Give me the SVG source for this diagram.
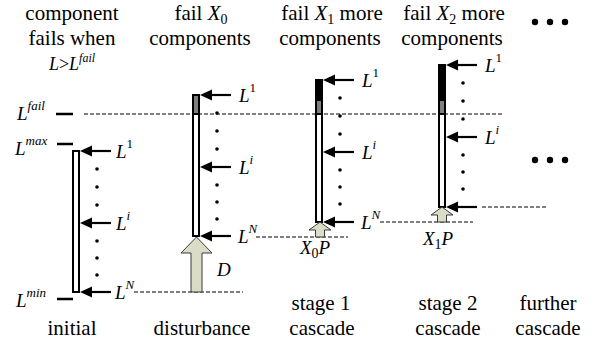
<svg xmlns="http://www.w3.org/2000/svg" width="597" height="347" viewBox="0 0 597 347" font-family="Liberation Serif, Times New Roman, serif">
<style>
text{fill:#000}
.h{font-size:21px;text-anchor:middle}
.lab{font-size:19px;font-style:italic}
.sup{font-size:13px}
.up{font-style:normal}
.bar{fill:#fff;stroke:#000;stroke-width:2}
.dash{stroke:#000;stroke-width:1;stroke-dasharray:4 2;fill:none}
.tick{stroke:#000;stroke-width:2.5}
.dot{fill:#000}
.big{fill:#dadcc6;stroke:#3a3a3a;stroke-width:1}
</style>
<defs>
<g id="arrowL">
<line x1="0" y1="0" x2="-20" y2="0" stroke="#000" stroke-width="2.2"/>
<path d="M-31,0 L-19,-5.5 L-19,5.5 z" fill="#000"/>
</g>
</defs>

<g id="connectors">
<line class="dash" x1="84" y1="114" x2="502" y2="114"/>
<line class="dash" x1="134" y1="292" x2="243" y2="292"/>
<line class="dash" x1="256" y1="237" x2="348" y2="237"/>
<line class="dash" x1="380" y1="222" x2="473" y2="222"/>
<line class="dash" x1="482" y1="207" x2="548" y2="207"/>
</g>

<g id="initial">
<text class="h" x="72" y="20">component</text>
<text class="h" x="72" y="45">fails when</text>
<text x="72" y="70" font-size="18" text-anchor="middle"><tspan font-style="italic">L</tspan>&gt;<tspan font-style="italic">L</tspan><tspan font-style="italic" font-size="12" dy="-8">fail</tspan></text>
<text class="lab" x="17" y="120">L<tspan class="sup" dy="-10">fail</tspan></text>
<text class="lab" x="15" y="155">L<tspan class="sup" dy="-10">max</tspan></text>
<text class="lab" x="16" y="307">L<tspan class="sup" dy="-10">min</tspan></text>
<line class="tick" x1="56" y1="114" x2="73" y2="114"/>
<line class="tick" x1="57" y1="144" x2="73" y2="144"/>
<line class="tick" x1="57" y1="299" x2="73" y2="299"/>
<rect class="bar" x="73" y="151" width="6" height="141"/>
<use href="#arrowL" x="111" y="151"/>
<use href="#arrowL" x="111" y="223"/>
<use href="#arrowL" x="111" y="292"/>
<text class="lab" x="116" y="158">L<tspan class="sup up" dy="-10">1</tspan></text>
<text class="lab" x="116" y="230">L<tspan class="sup" dy="-10">i</tspan></text>
<text class="lab" x="115" y="299">L<tspan class="sup" dy="-10">N</tspan></text>
<circle class="dot" cx="97" cy="169" r="1.8"/><circle class="dot" cx="97" cy="187" r="1.8"/><circle class="dot" cx="97" cy="205" r="1.8"/>
<circle class="dot" cx="97" cy="241" r="1.8"/><circle class="dot" cx="97" cy="258" r="1.8"/><circle class="dot" cx="97" cy="275" r="1.8"/>
<text class="h" x="72" y="335">initial</text>
</g>

<g id="disturbance">
<text class="h" x="201" y="20">fail <tspan font-style="italic">X</tspan><tspan font-size="14" dy="4">0</tspan></text>
<text class="h" x="200" y="45">components</text>
<rect class="bar" x="193" y="95" width="6" height="141"/>
<rect x="193" y="95" width="6" height="19" fill="#7f7f7f" stroke="#000" stroke-width="2"/>
<use href="#arrowL" x="231" y="95"/>
<use href="#arrowL" x="231" y="167"/>
<use href="#arrowL" x="231" y="236"/>
<text class="lab" x="239" y="102">L<tspan class="sup up" dy="-10">1</tspan></text>
<text class="lab" x="239" y="174">L<tspan class="sup" dy="-10">i</tspan></text>
<text class="lab" x="238" y="243">L<tspan class="sup" dy="-10">N</tspan></text>
<circle class="dot" cx="217" cy="113" r="1.8"/><circle class="dot" cx="217" cy="131" r="1.8"/><circle class="dot" cx="217" cy="149" r="1.8"/>
<circle class="dot" cx="217" cy="185" r="1.8"/><circle class="dot" cx="217" cy="202" r="1.8"/><circle class="dot" cx="217" cy="219" r="1.8"/>
<polygon class="big" points="196.5,237 212,253 202,253 202,292 191,292 191,253 181,253"/>
<text class="lab" x="217" y="276">D</text>
<text class="h" x="202" y="335">disturbance</text>
</g>

<g id="stage1">
<text class="h" x="332" y="20">fail <tspan font-style="italic">X</tspan><tspan font-size="14" dy="4">1</tspan><tspan dy="-4"> more</tspan></text>
<text class="h" x="330" y="45">components</text>
<rect class="bar" x="316" y="80" width="6" height="142"/>
<rect x="316" y="80" width="6" height="20" fill="#000" stroke="#000" stroke-width="2"/>
<rect x="316" y="100" width="6" height="14" fill="#7f7f7f" stroke="#000" stroke-width="2"/>
<use href="#arrowL" x="354" y="80"/>
<use href="#arrowL" x="354" y="152"/>
<use href="#arrowL" x="354" y="222"/>
<text class="lab" x="362" y="87">L<tspan class="sup up" dy="-10">1</tspan></text>
<text class="lab" x="362" y="159">L<tspan class="sup" dy="-10">i</tspan></text>
<text class="lab" x="361" y="229">L<tspan class="sup" dy="-10">N</tspan></text>
<circle class="dot" cx="340" cy="98" r="1.8"/><circle class="dot" cx="340" cy="116" r="1.8"/><circle class="dot" cx="340" cy="134" r="1.8"/>
<circle class="dot" cx="340" cy="170" r="1.8"/><circle class="dot" cx="340" cy="187" r="1.8"/><circle class="dot" cx="340" cy="204" r="1.8"/>
<polygon class="big" points="320,222 331,230 324.5,230 324.5,237 315.5,237 315.5,230 309,230"/>
<text class="lab" x="300" y="254">X<tspan font-size="14" font-style="normal" dy="4">0</tspan><tspan dy="-4">P</tspan></text>
<text class="h" x="321" y="310">stage 1</text>
<text class="h" x="322" y="335">cascade</text>
</g>

<g id="stage2">
<text class="h" x="454" y="20">fail <tspan font-style="italic">X</tspan><tspan font-size="14" dy="4">2</tspan><tspan dy="-4"> more</tspan></text>
<text class="h" x="452" y="45">components</text>
<rect class="bar" x="439" y="65" width="6" height="142"/>
<rect x="439" y="65" width="6" height="35" fill="#000" stroke="#000" stroke-width="2"/>
<rect x="439" y="100" width="6" height="14" fill="#7f7f7f" stroke="#000" stroke-width="2"/>
<use href="#arrowL" x="477" y="65"/>
<use href="#arrowL" x="477" y="137"/>
<use href="#arrowL" x="477" y="207"/>
<text class="lab" x="485" y="72">L<tspan class="sup up" dy="-10">1</tspan></text>
<text class="lab" x="485" y="144">L<tspan class="sup" dy="-10">i</tspan></text>
<circle class="dot" cx="463" cy="83" r="1.8"/><circle class="dot" cx="463" cy="101" r="1.8"/><circle class="dot" cx="463" cy="119" r="1.8"/>
<circle class="dot" cx="463" cy="155" r="1.8"/><circle class="dot" cx="463" cy="172" r="1.8"/><circle class="dot" cx="463" cy="189" r="1.8"/>
<polygon class="big" points="442,207 453,215 446.5,215 446.5,222 437.5,222 437.5,215 431,215"/>
<text class="lab" x="423" y="245">X<tspan font-size="14" font-style="normal" dy="4">1</tspan><tspan dy="-4">P</tspan></text>
<text class="h" x="448" y="310">stage 2</text>
<text class="h" x="448" y="335">cascade</text>
</g>

<g id="further">
<circle class="dot" cx="535" cy="22" r="3.2"/><circle class="dot" cx="550" cy="22" r="3.2"/><circle class="dot" cx="565" cy="22" r="3.2"/>
<circle class="dot" cx="535" cy="160" r="3.2"/><circle class="dot" cx="550" cy="160" r="3.2"/><circle class="dot" cx="565" cy="160" r="3.2"/>
<text class="h" x="548" y="310">further</text>
<text class="h" x="548" y="335">cascade</text>
</g>
</svg>
